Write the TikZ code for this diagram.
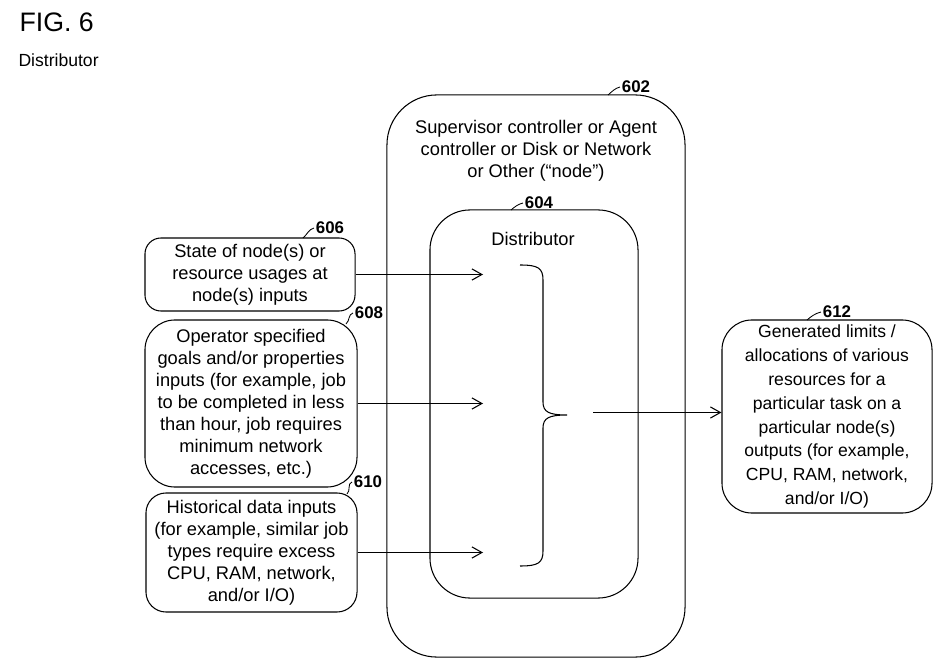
\documentclass[tikz,border=0pt]{standalone}
\usepackage{fontspec}
\setmainfont{Liberation Sans}
\usepackage{tikz}
\usetikzlibrary{positioning,arrows.meta}

\begin{document}
\begin{tikzpicture}[x=0.025cm, y=-0.025cm, line width=0.75pt,
    >={Straight Barb[length=2.5mm,width=2.8mm]},
    box/.style = {draw, inner sep=0pt, align=center, font=\fontsize{13}{15.6}\selectfont},
    txt/.style = {align=center, inner sep=0pt, font=\fontsize{13}{15.6}\selectfont},
    num/.style = {inner sep=1pt, font=\bfseries\fontsize{12}{14}\selectfont}]
            \useasboundingbox (0,0) rectangle (942,669);

            % title
            \node[anchor=west, inner sep=0pt, font=\fontsize{19}{22}\selectfont] (fig) at (19,22.5) {FIG. 6};
            \node[anchor=west, inner sep=0pt, font=\fontsize{12.5}{15}\selectfont] (sub) at (18,60) {Distributor};

            % nested boxes
            \node[box, rounded corners=1.25cm, minimum width=7.45cm, minimum height=14.05cm] (602) at (536,376) {};
            \node[txt] (sup) at (536,151) {Supervisor controller or Agent\\controller or Disk or Network\\or Other (“node”)};
            \node[box, rounded corners=1cm, minimum width=5.2cm, minimum height=9.7cm] (604) at (534,404) {};
            \node[txt] (dist) at (533,239) {Distributor};

            % inputs and output
            \node[box, rounded corners=0.4cm, minimum width=5.25cm, minimum height=1.825cm] (606) at (250,274.5)
                {State of node(s) or\\resource usages at\\node(s) inputs};
            \node[box, rounded corners=0.75cm, minimum width=5.3cm, minimum height=4.175cm] (608) at (251,403.5)
                {Operator specified\\goals and/or properties\\inputs (for example, job\\to be completed in less\\than hour, job requires\\minimum network\\accesses, etc.)};
            \node[box, rounded corners=0.5cm, minimum width=5.275cm, minimum height=2.975cm] (610) at (251.5,552.5)
                {Historical data inputs\\(for example, similar job\\types require excess\\CPU, RAM, network,\\and/or I/O)};
            \node[box, rounded corners=0.75cm, minimum width=5.25cm, minimum height=4.825cm,
                font=\fontsize{12.5}{17}\selectfont] (612) at (827,416.5)
                {Generated limits /\\allocations of various\\resources for a\\particular task on a\\particular node(s)\\outputs (for example,\\CPU, RAM, network,\\and/or I/O)};

            % reference numerals
            \node[num] (l602) at (636,87) {602};
            \node[num] (l604) at (539,203) {604};
            \node[num] (l606) at (330,228) {606};
            \node[num] (l608) at (369,313) {608};
            \node[num] (l610) at (368,482) {610};
            \node[num] (l612) at (837,312) {612};

            \coordinate (c602) at (608,95);
            \coordinate (c604) at (511,210);
            \coordinate (c606) at (303,238);
            \coordinate (c608) at (346,324);
            \coordinate (c610) at (347,494);
            \coordinate (c612) at (807,320);
            \foreach \n in {602,604,606,608,610,612}
                \draw[line width=0.6pt] (l\n.west) to[out=195,in=40] (c\n);

            % arrows
            \coordinate (in1) at (483,274.5);
            \coordinate (in2) at (483,403.5);
            \coordinate (in3) at (483,552.5);
            \coordinate (out) at (593,412.5);
            \draw[->] (606.east) -- (in1);
            \draw[->] (608.east) -- (in2);
            \draw[->] (610.east) -- (in3);
            \draw[->] (out) -- (out -| 612.west);

            % brace
            \draw (520,265) .. controls (538,265) and (543,268) .. (543,280) -- (543,402)
                .. controls (543,412) and (549,415) .. (567,415)
                .. controls (549,415) and (543,418) .. (543,428) -- (543,551)
                .. controls (543,563) and (538,566) .. (520,566);

        \end{tikzpicture}
\end{document}
